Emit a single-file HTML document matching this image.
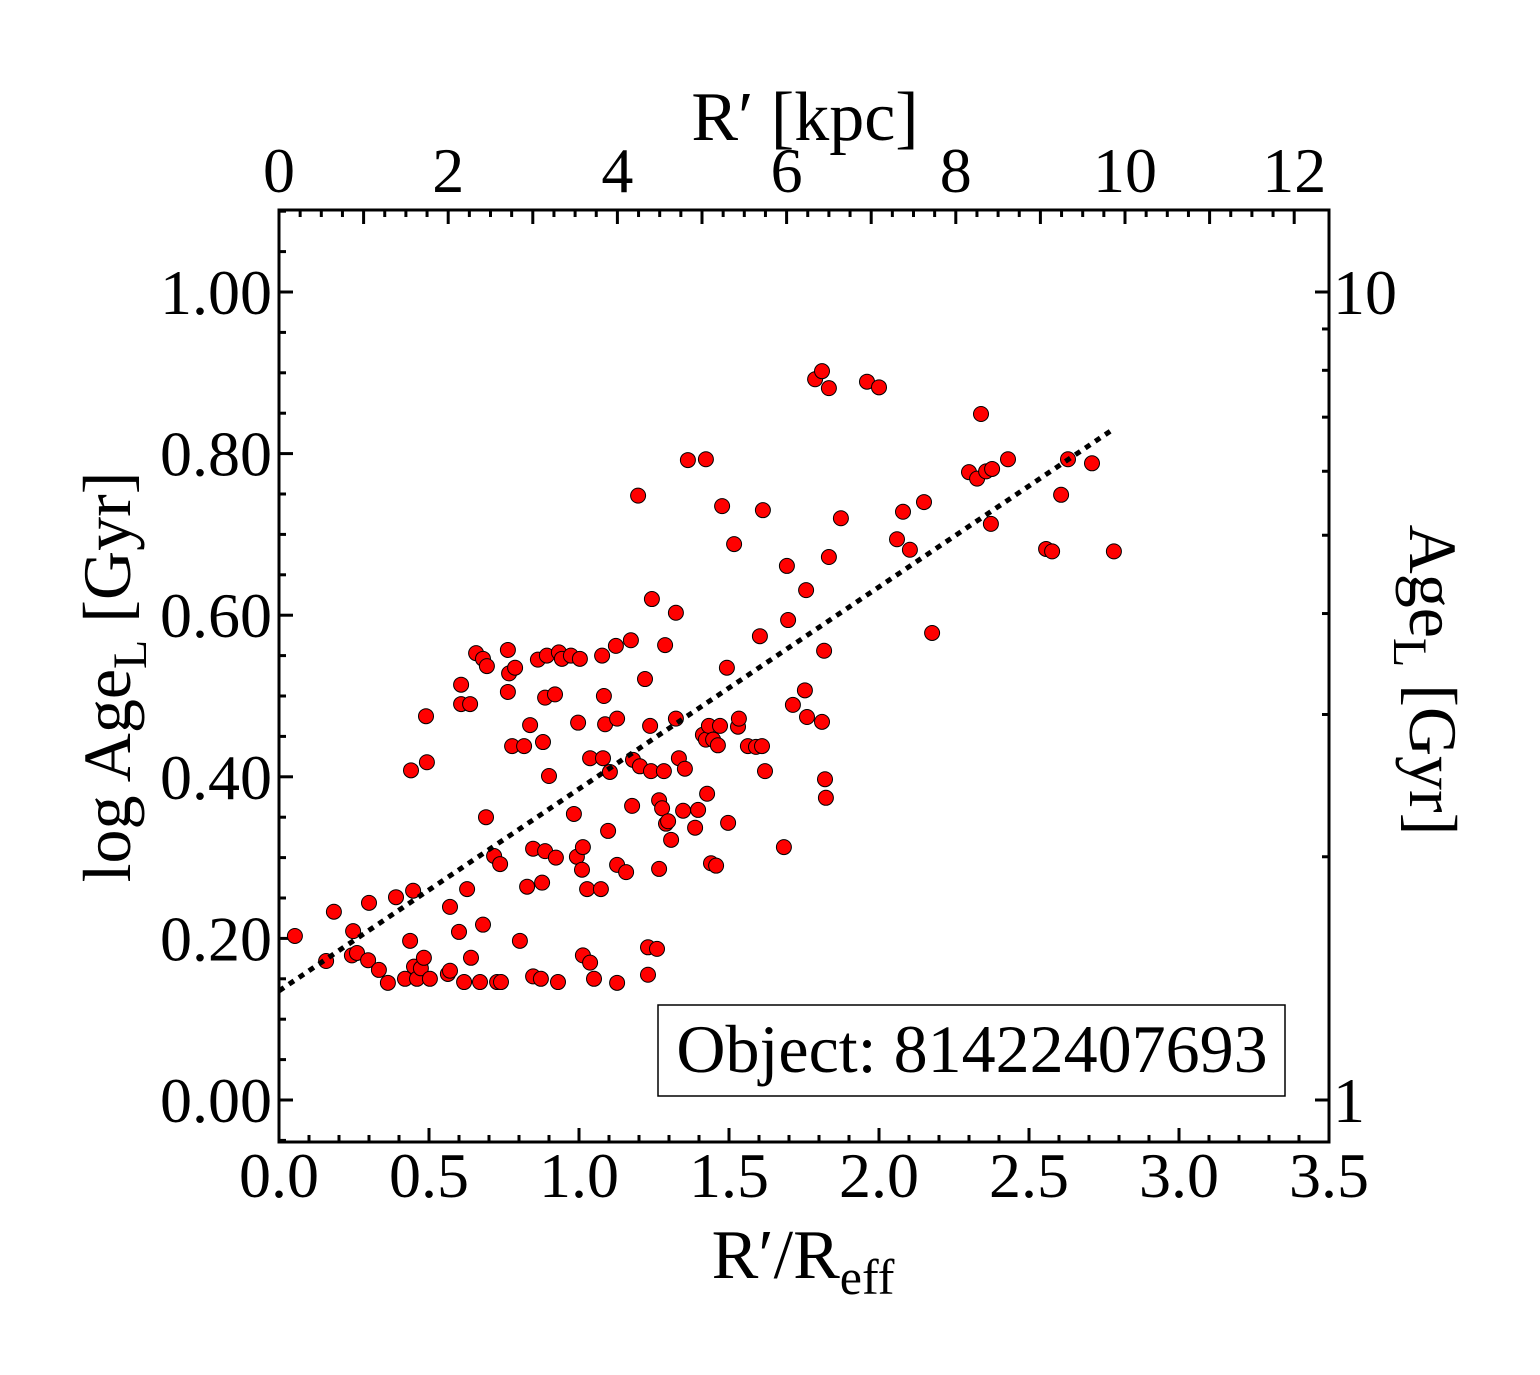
<!DOCTYPE html>
<html><head><meta charset="utf-8"><style>
html,body{margin:0;padding:0;background:#fff;}
svg{display:block;font-family:"Liberation Serif",serif;}
</style></head><body>
<svg id="chart" width="1540" height="1375" viewBox="0 0 1540 1375" xmlns="http://www.w3.org/2000/svg"></svg>
<script>
const xVals=[0.053,0.157,0.183,0.247,0.243,0.26,0.3,0.297,0.333,0.363,0.39,0.42,0.44,0.437,0.447,0.45,0.46,0.473,0.483,0.49,0.493,0.503,0.57,0.563,0.57,0.6,0.607,0.607,0.617,0.627,0.637,0.64,0.657,0.67,0.68,0.68,0.69,0.693,0.717,0.727,0.737,0.74,0.763,0.763,0.767,0.777,0.787,0.803,0.817,0.827,0.837,0.847,0.847,0.863,0.873,0.877,0.88,0.887,0.887,0.893,0.9,0.92,0.923,0.93,0.933,0.943,0.973,0.983,0.993,0.997,1.003,1.01,1.013,1.013,1.027,1.037,1.037,1.05,1.073,1.077,1.08,1.083,1.087,1.097,1.103,1.123,1.127,1.127,1.127,1.157,1.173,1.177,1.18,1.197,1.203,1.22,1.23,1.23,1.237,1.24,1.243,1.26,1.267,1.267,1.277,1.283,1.287,1.29,1.297,1.307,1.323,1.323,1.333,1.347,1.353,1.363,1.387,1.397,1.413,1.423,1.423,1.427,1.433,1.44,1.447,1.457,1.463,1.47,1.477,1.493,1.497,1.517,1.53,1.533,1.563,1.59,1.603,1.61,1.613,1.62,1.683,1.693,1.697,1.713,1.753,1.757,1.76,1.787,1.81,1.81,1.817,1.82,1.823,1.833,1.833,1.873,1.96,2.0,2.06,2.08,2.103,2.15,2.177,2.3,2.327,2.34,2.357,2.373,2.377,2.43,2.557,2.577,2.607,2.63,2.71,2.783];
const yVals=[0.203,0.172,0.233,0.209,0.179,0.182,0.244,0.173,0.161,0.145,0.251,0.150,0.408,0.197,0.259,0.165,0.150,0.163,0.176,0.475,0.418,0.150,0.239,0.156,0.160,0.208,0.514,0.490,0.146,0.261,0.490,0.176,0.553,0.146,0.546,0.217,0.350,0.537,0.302,0.146,0.292,0.146,0.557,0.505,0.528,0.438,0.535,0.197,0.438,0.264,0.464,0.311,0.153,0.545,0.150,0.269,0.443,0.498,0.308,0.550,0.401,0.502,0.300,0.146,0.554,0.546,0.550,0.354,0.301,0.467,0.546,0.285,0.313,0.179,0.261,0.423,0.170,0.150,0.261,0.550,0.423,0.500,0.465,0.333,0.406,0.562,0.291,0.472,0.145,0.282,0.569,0.364,0.421,0.748,0.413,0.521,0.189,0.155,0.463,0.407,0.620,0.187,0.371,0.286,0.361,0.407,0.563,0.342,0.345,0.322,0.603,0.472,0.423,0.358,0.410,0.792,0.337,0.359,0.452,0.446,0.793,0.379,0.463,0.293,0.446,0.290,0.439,0.463,0.735,0.535,0.343,0.688,0.462,0.472,0.438,0.437,0.574,0.438,0.730,0.407,0.313,0.661,0.594,0.489,0.507,0.631,0.474,0.892,0.902,0.468,0.556,0.397,0.374,0.881,0.672,0.720,0.889,0.882,0.694,0.728,0.681,0.740,0.578,0.777,0.769,0.849,0.778,0.713,0.781,0.793,0.682,0.679,0.749,0.793,0.788,0.679];
const fitX=[0,2.78];
const fitY=[0.135,0.83];
const xTicks=["0.0","0.5","1.0","1.5","2.0","2.5","3.0","3.5"];
const yTicks=["0.00","0.20","0.40","0.60","0.80","1.00"];
const kpcTicks=["0","2","4","6","8","10","12"];

const NS="http://www.w3.org/2000/svg";
const svg=document.getElementById('chart');
const L=279,R=1329,T=210,B=1142;
const sx=v=>L+v*300;
const sy=v=>1100-v*808;
const skpc=v=>L+v*84.6;
function el(tag,attrs,parent){const e=document.createElementNS(NS,tag);for(const k in attrs)e.setAttribute(k,attrs[k]);(parent||svg).appendChild(e);return e;}
function txt(x,y,s,size,anchor,parent){const t=el('text',{x:x,y:y,'font-size':size,'text-anchor':anchor||'middle',fill:'#000'},parent);t.textContent=s;return t;}

const ticks=el('g',{stroke:'#000','stroke-width':3});


for(let i=0;i<=35;i++){const x=sx(i/10);const len=i%5===0?14:7;
  el('line',{x1:x,y1:B,x2:x,y2:B-len},ticks);}
for(let i=0;i<=48;i++){const x=skpc(i/4);if(x>R)break;const len=i%4===0?14:7;
  el('line',{x1:x,y1:T,x2:x,y2:T+len},ticks);}
for(let i=-1;i<=22;i++){const y=sy(i*0.05);if(y<T||y>B)continue;const len=i%4===0?14:7;
  el('line',{x1:L,y1:y,x2:L+len,y2:y},ticks);}
for(let d=1;d<=2;d++){for(let m=1;m<=9;m++){const lv=Math.log10(m*Math.pow(10,d-1));const y=sy(lv);if(y<T||y>B)continue;const len=m===1?14:7;
  el('line',{x1:R,y1:y,x2:R-len,y2:y},ticks);}}
const frame=el('rect',{x:L,y:T,width:R-L,height:B-T,fill:'none',stroke:'#000','stroke-width':3});



xTicks.forEach(s=>{const t=txt(sx(parseFloat(s)),1197,s,64);
  
  });
kpcTicks.forEach(s=>{const t=txt(skpc(parseFloat(s)),192,s,64);
  
  });
yTicks.forEach(s=>{const t=txt(272,sy(parseFloat(s))+22,s,64,'end');
  
  });
[["10",1],["1",0]].forEach(([s,v])=>{const t=txt(1333,sy(v)+22,s,64,'start');
  
  });

const xt=el('text',{x:803,y:1278,'font-size':70,'text-anchor':'middle'});


xt.innerHTML='R′/R<tspan font-size="50" dy="16">eff</tspan>';
const tt=el('text',{x:805,y:140,'font-size':70,'text-anchor':'middle'});


tt.textContent='R′ [kpc]';
const yt=el('text',{x:0,y:0,'font-size':68,'text-anchor':'middle',transform:'translate(130,677) rotate(-90)'});


yt.innerHTML='log Age<tspan font-size="48" dy="16">L</tspan><tspan dy="-16"> [Gyr]</tspan>';
const rt=el('text',{x:0,y:0,'font-size':68,'text-anchor':'middle',transform:'translate(1410,680) rotate(90)'});


rt.innerHTML='Age<tspan font-size="48" dy="16">L</tspan><tspan dy="-16"> [Gyr]</tspan>';

const pts=el('g',{});


xVals.forEach((x,i)=>{const c=el('circle',{cx:sx(x),cy:sy(yVals[i]),r:7.5,fill:'#ff0000',stroke:'#000','stroke-width':1},pts);
  
  });

const fl=el('line',{x1:sx(fitX[0]),y1:sy(fitY[0]),x2:sx(fitX[1]),y2:sy(fitY[1]),stroke:'#000','stroke-width':5,'stroke-dasharray':'6 6'});



const lg=el('g',{});


el('rect',{x:658,y:1005,width:627,height:91,fill:'#fff',stroke:'#000','stroke-width':1.5},lg);
txt(972,1072,'Object: 81422407693',68,'middle',lg);
</script>
</body></html>
